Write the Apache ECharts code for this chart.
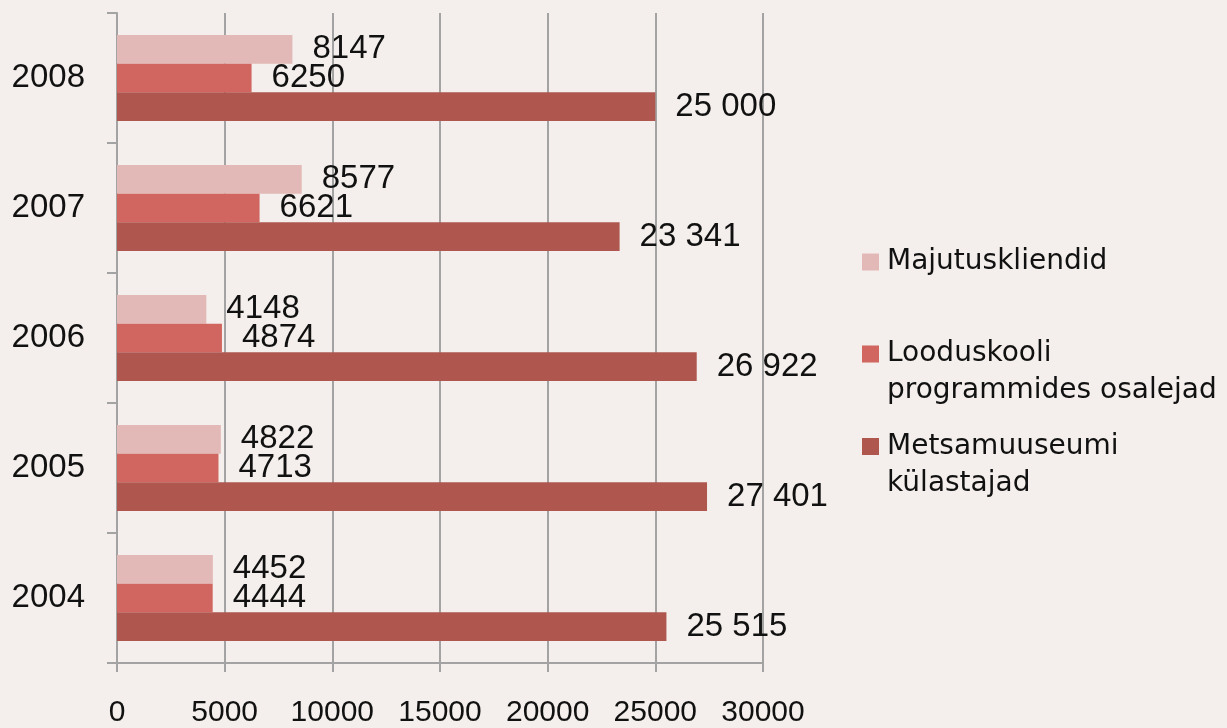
<!DOCTYPE html>
<html>
<head>
<meta charset="utf-8">
<script src="https://cdn.jsdelivr.net/npm/echarts@6/dist/echarts.min.js"></script>
<style>
html,body{margin:0;padding:0;background:#F4EFEC;}
#chart{width:1227px;height:728px;}
</style>
</head>
<body>
<div id="chart"></div>
<script>
const years = ['2004', '2005', '2006', '2007', '2008'];
const majutuskliendid = [4452, 4822, 4148, 8577, 8147];
const looduskool = [4444, 4713, 4874, 6621, 6250];
const metsamuuseum = [25515, 27401, 26922, 23341, 25000];
const xTicks = { min: 0, max: 30000, interval: 5000 };

const names = ['Majutuskliendid', 'Looduskooli\nprogrammides osalejad', 'Metsamuuseumi\nkülastajad'];
const colors = ['#E2B9B6', '#D0665F', '#AF564F'];
const numFont = 'Liberation Sans';
const gray = '#A3A3A3';

function spaced(v) {
  return String(v).replace(/\B(?=(\d{3})+(?!\d))/g, ' ');
}

const chart = echarts.init(document.getElementById('chart'), null, { renderer: 'canvas' });

const tallIcon = 'path://M0,0h17v17h-17z M0,54h0.01v0.01h-0.01z';
function legendCfg(name, top, icon, h) {
  return {
    show: true,
    data: [{ name: name, icon: icon }],
    left: 862,
    top: top,
    orient: 'vertical',
    padding: 0,
    itemWidth: 17,
    itemHeight: h,
    selectedMode: false,
    textStyle: {
      fontFamily: 'DejaVu Sans',
      fontSize: 28,
      lineHeight: 37,
      color: '#111',
      padding: [0, 0, 0, 3]
    }
  };
}

function labelCfg(fmt) {
  return {
    show: true,
    position: 'right',
    distance: 20,
    fontFamily: numFont,
    fontSize: 33,
    color: '#111',
    formatter: fmt
  };
}

const option = {
  backgroundColor: '#F4EFEC',
  animation: false,
  color: colors,
  textStyle: { fontFamily: numFont },
  legend: [
    legendCfg(names[0], 243.5, 'rect', 17),
    legendCfg(names[1], 335.5, tallIcon, 54),
    legendCfg(names[2], 428, tallIcon, 54)
  ],
  grid: { left: 117, right: 464, top: 13, bottom: 65, containLabel: false, outerBoundsMode: 'none' },
  xAxis: {
    type: 'value',
    min: xTicks.min,
    max: xTicks.max,
    interval: xTicks.interval,
    axisLine: { show: true, lineStyle: { color: gray, width: 2 } },
    axisTick: { show: true, length: 9, lineStyle: { color: gray, width: 2 } },
    splitLine: { show: true, lineStyle: { color: gray, width: 2 } },
    axisLabel: {
      show: true,
      margin: 35,
      fontFamily: numFont,
      fontSize: 30,
      color: '#111',
      hideOverlap: false,
      formatter: function (v) { return String(v); }
    }
  },
  yAxis: {
    type: 'category',
    data: years,
    axisLine: { show: true, lineStyle: { color: gray, width: 2 } },
    axisTick: { show: true, length: 10, lineStyle: { color: gray, width: 2 } },
    axisLabel: { margin: 32, fontFamily: numFont, fontSize: 33, color: '#111' }
  },
  series: [
    {
      name: names[0], type: 'bar', data: majutuskliendid,
      barGap: '0%', barCategoryGap: '34%',
      itemStyle: { color: colors[0] },
      label: labelCfg(p => String(p.value))
    },
    {
      name: names[1], type: 'bar', data: looduskool,
      barGap: '0%', barCategoryGap: '34%',
      itemStyle: { color: colors[1] },
      label: labelCfg(p => String(p.value))
    },
    {
      name: names[2], type: 'bar', data: metsamuuseum,
      barGap: '0%', barCategoryGap: '34%',
      itemStyle: { color: colors[2] },
      label: labelCfg(p => spaced(p.value))
    }
  ]
};
chart.setOption(option);
</script>
</body>
</html>
